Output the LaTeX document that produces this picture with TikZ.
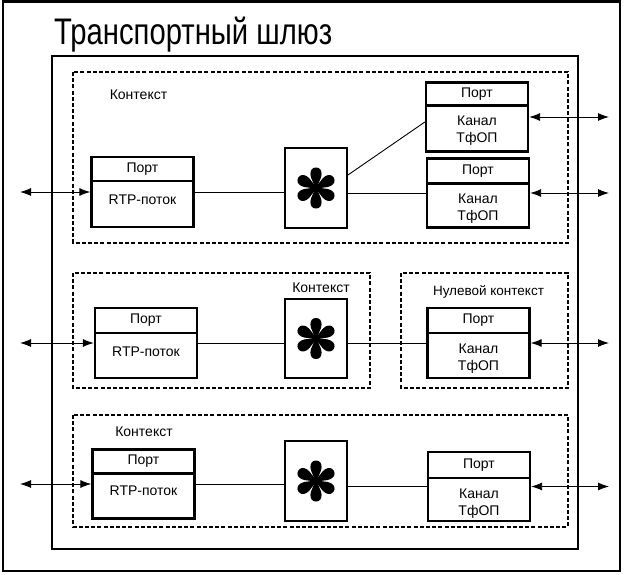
\documentclass[tikz,border=0pt]{standalone}
\usepackage{fontspec}
\setmainfont{Liberation Sans}
\usetikzlibrary{arrows.meta}
\usetikzlibrary{calc}

\begin{document}
\begin{tikzpicture}[x=1pt,y=-1pt,
    ctx/.style={draw, line width=1.6pt, dash pattern=on 4pt off 2.2pt},
    portbox/.style={draw, line width=2.3pt, minimum width=102pt, minimum height=70pt, inner sep=0pt},
    porthead/.style={draw, line width=2.3pt, minimum width=102pt, minimum height=24pt, anchor=north, inner sep=0pt, font=\fontsize{14}{17}\selectfont},
    starbox/.style={draw, line width=1.9pt, minimum width=62pt, minimum height=80pt, inner sep=0pt},
    lbl/.style={font=\fontsize{14}{17}\selectfont, align=center, inner sep=0pt},
    link/.style={line width=0.9pt},
    dbl/.style={line width=0.9pt, {Latex[length=11pt,width=8pt]}-{Latex[length=11pt,width=8pt]}}
  ]
        \useasboundingbox (0,0) rectangle (624,575);

        % Frames
        \draw[line width=2.8pt] (3,1.5) rectangle (620,571);
        \draw[line width=1.3pt] (52,56) rectangle (578,549);
        \node[anchor=base west, inner sep=0pt] (title) at (54,45)
          {\scalebox{0.79}[1]{\fontsize{37}{40}\selectfont Транспортный шлюз}};

        % Contexts
        \draw[ctx] (73,72) rectangle (568,243);
        \draw[ctx] (73,273) rectangle (370,388);
        \draw[ctx] (401,273) rectangle (568,388);
        \draw[ctx] (73,415) rectangle (568,527);
        \node[lbl] (ctxA) at (138.5,95) {Контекст};
        \node[lbl] (ctxB) at (321,288) {Контекст};
        \node[lbl, font=\fontsize{13.5}{16}\selectfont] (ctxNull) at (488.5,292) {Нулевой контекст};
        \node[lbl] (ctxC) at (144,432) {Контекст};

        % Row 1
        \node[portbox] (rtpA) at (142.5,192) {};
        \node[porthead] (rtpAh) at (rtpA.north) {Порт};
        \node[lbl, anchor=base] (rtpAt) at ([yshift=-22pt]rtpAh.south) {RTP-поток};
        \node[starbox] (starA) at (316,188) {};
        \node[portbox, minimum height=69pt] (chanA1) at (477,117) {};
        \node[porthead, minimum height=23pt] (chanA1h) at (chanA1.north) {Порт};
        \node[lbl] (chanA1t) at ([yshift=-24pt]chanA1h.south) {Канал\\ТфОП};
        \node[portbox, minimum height=69pt] (chanA2) at (478,193) {};
        \node[porthead, minimum height=25pt] (chanA2h) at (chanA2.north) {Порт};
        \node[lbl] (chanA2t) at ([yshift=-24pt]chanA2h.south) {Канал\\ТфОП};

        % Row 2
        \node[portbox] (rtpB) at (146,343) {};
        \node[porthead, minimum height=25pt] (rtpBh) at (rtpB.north) {Порт};
        \node[lbl, anchor=base] (rtpBt) at ([yshift=-22pt]rtpBh.south) {RTP-поток};
        \node[starbox, minimum height=79pt] (starB) at (316,338.5) {};
        \node[portbox] (chanB) at (478.5,343) {};
        \node[porthead, minimum height=25pt] (chanBh) at (chanB.north) {Порт};
        \node[lbl] (chanBt) at ([yshift=-24pt]chanBh.south) {Канал\\ТфОП};

        % Row 3
        \node[portbox, minimum height=69pt] (rtpC) at (143.5,484) {};
        \node[porthead] (rtpCh) at (rtpC.north) {Порт};
        \node[lbl, anchor=base] (rtpCt) at ([yshift=-21pt]rtpCh.south) {RTP-поток};
        \node[starbox] (starC) at (316,481) {};
        \node[portbox, minimum height=69pt] (chanC) at (479,486.5) {};
        \node[porthead, minimum height=26pt] (chanCh) at (chanC.north) {Порт};
        \node[lbl] (chanCt) at ([yshift=-24pt]chanCh.south) {Канал\\ТфОП};

        % Stars
        \foreach \s in {starA,starB,starC}
        {
          \foreach \a in {30,90,...,330}
            \fill[shift={(\s.center)}, rotate=\a] (0,-1.6)
              .. controls (6,-1.8) and (9,-5.6) .. (14,-5.6)
              .. controls (18.2,-5.6) and (20.5,-3.4) .. (20.5,0)
              .. controls (20.5,3.4) and (18.2,5.6) .. (14,5.6)
              .. controls (9,5.6) and (6,1.8) .. (0,1.6) -- cycle;
          \fill (\s.center) circle (2.4pt);
        }

        % Links
        \draw[link] (rtpA.east) -- (rtpA.east -| starA.west);
        \draw[link] (starA.east |- chanA2.west) -- (chanA2.west);
        \draw[link] ([yshift=13pt]starA.east) -- ([yshift=-5pt]chanA1.west);
        \draw[link] (rtpB.east) -- (rtpB.east -| starB.west);
        \draw[link] (starB.east |- chanB.west) -- (chanB.west);
        \draw[link] (rtpC.east) -- (rtpC.east -| starC.west);
        \draw[link] (starC.east |- chanC.west) -- (chanC.west);

        % Outside arrows
        \coordinate (lA) at (20,192);
        \coordinate (lB) at (20,343);
        \coordinate (lC) at (20,484);
        \coordinate (rA1) at (609,117);
        \coordinate (rA2) at (609,193);
        \coordinate (rB) at (609,343);
        \coordinate (rC) at (609,486.5);
        \draw[dbl] (lA) -- (rtpA.west);
        \draw[dbl] (lB) -- (rtpB.west);
        \draw[dbl] (lC) -- (rtpC.west);
        \draw[dbl] (chanA1.east) -- (rA1);
        \draw[dbl] (chanA2.east) -- (rA2);
        \draw[dbl] (chanB.east) -- (rB);
        \draw[dbl] (chanC.east) -- (rC);
\end{tikzpicture}
\end{document}
